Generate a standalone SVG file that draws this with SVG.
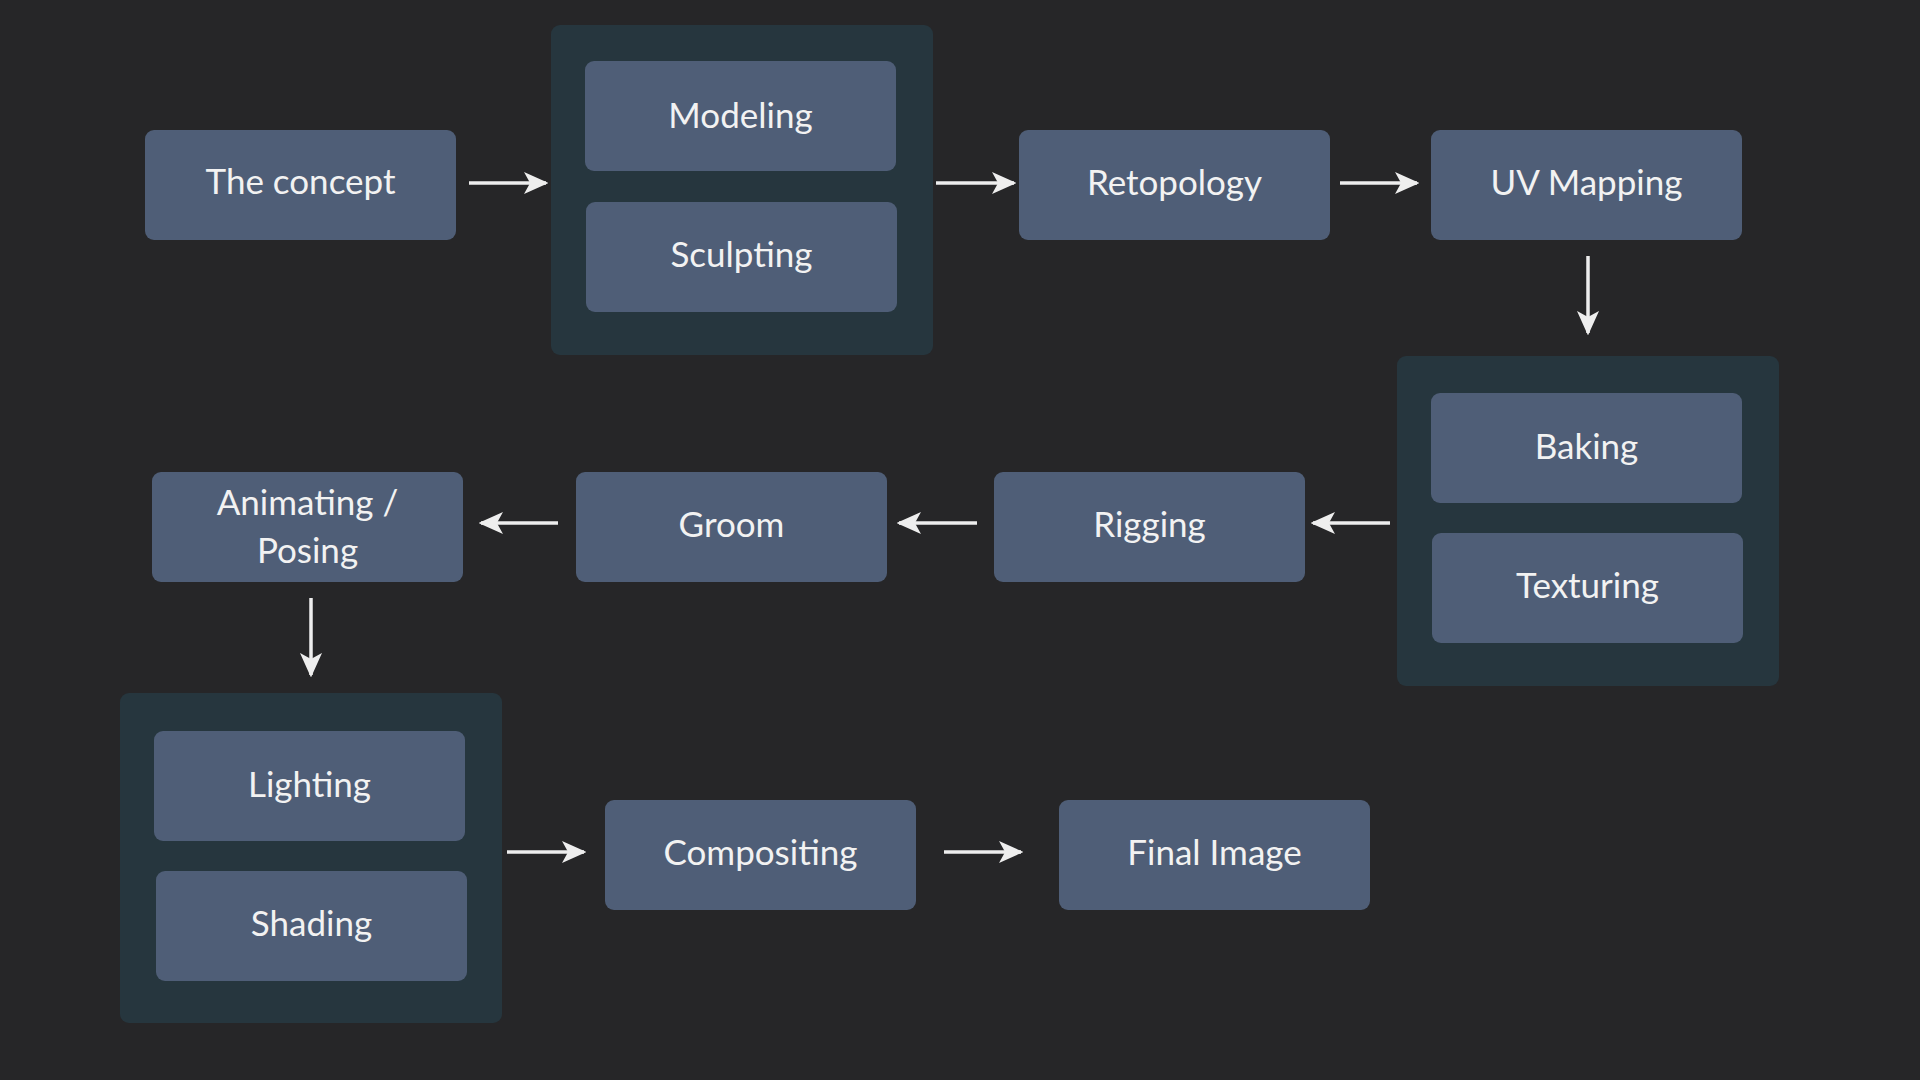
<svg xmlns="http://www.w3.org/2000/svg" width="1920" height="1080" viewBox="0 0 1920 1080">
<defs>
<style>
.bg{fill:#262628}
.grp{fill:#26363e}
.node{fill:#4f5e77}
.lbl{fill:#f2f2f2;font-family:Lato,"Open Sans","DejaVu Sans",sans-serif;font-size:35px;text-anchor:middle;dominant-baseline:central}
.arr{stroke:#eeeeee;stroke-width:3.5;fill:none;marker-end:url(#ah)}
</style>
<marker id="ah" viewBox="0 0 20 20" refX="18" refY="10" markerWidth="7" markerHeight="7" markerUnits="strokeWidth" orient="auto">
<path d="M0,1 L20,10 L0,19 L5,10 Z" fill="#eeeeee"/>
</marker>
</defs>
<rect class="bg" x="0" y="0" width="1920" height="1080"/>

<g id="concept"><rect class="node" x="145" y="130" width="311" height="110" rx="9"/><text class="lbl" x="300.5" y="180">The concept</text></g>

<g id="group-model"><rect class="grp" x="551" y="25" width="382" height="330" rx="9"/></g>
<g id="modeling"><rect class="node" x="585" y="61" width="311" height="110" rx="9"/><text class="lbl" x="740.5" y="114">Modeling</text></g>
<g id="sculpting"><rect class="node" x="586" y="202" width="311" height="110" rx="9"/><text class="lbl" x="741.5" y="253">Sculpting</text></g>

<g id="retopology"><rect class="node" x="1019" y="130" width="311" height="110" rx="9"/><text class="lbl" x="1174.5" y="181">Retopology</text></g>
<g id="uvmapping"><rect class="node" x="1431" y="130" width="311" height="110" rx="9"/><text class="lbl" x="1586.5" y="181">UV Mapping</text></g>

<g id="group-bake"><rect class="grp" x="1397" y="356" width="382" height="330" rx="9"/></g>
<g id="baking"><rect class="node" x="1431" y="393" width="311" height="110" rx="9"/><text class="lbl" x="1586.5" y="445">Baking</text></g>
<g id="texturing"><rect class="node" x="1432" y="533" width="311" height="110" rx="9"/><text class="lbl" x="1587.5" y="584">Texturing</text></g>

<g id="rigging"><rect class="node" x="994" y="472" width="311" height="110" rx="9"/><text class="lbl" x="1149.5" y="523">Rigging</text></g>
<g id="groom"><rect class="node" x="576" y="472" width="311" height="110" rx="9"/><text class="lbl" x="731.5" y="523">Groom</text></g>
<g id="animating"><rect class="node" x="152" y="472" width="311" height="110" rx="9"/><text class="lbl" x="307.5" y="501">Animating /</text><text class="lbl" x="307.5" y="549">Posing</text></g>

<g id="group-light"><rect class="grp" x="120" y="693" width="382" height="330" rx="9"/></g>
<g id="lighting"><rect class="node" x="154" y="731" width="311" height="110" rx="9"/><text class="lbl" x="309.5" y="783">Lighting</text></g>
<g id="shading"><rect class="node" x="156" y="871" width="311" height="110" rx="9"/><text class="lbl" x="311.5" y="922">Shading</text></g>

<g id="compositing"><rect class="node" x="605" y="800" width="311" height="110" rx="9"/><text class="lbl" x="760.5" y="851">Compositing</text></g>
<g id="final"><rect class="node" x="1059" y="800" width="311" height="110" rx="9"/><text class="lbl" x="1214.5" y="851">Final Image</text></g>

<g id="connectors">
<line class="arr" x1="469" y1="183" x2="546" y2="183"/>
<line class="arr" x1="936" y1="183" x2="1014" y2="183"/>
<line class="arr" x1="1340" y1="183" x2="1417" y2="183"/>
<line class="arr" x1="1588" y1="256" x2="1588" y2="333"/>
<line class="arr" x1="1390" y1="523" x2="1313" y2="523"/>
<line class="arr" x1="977" y1="523" x2="899" y2="523"/>
<line class="arr" x1="558" y1="523" x2="481" y2="523"/>
<line class="arr" x1="311" y1="598" x2="311" y2="675"/>
<line class="arr" x1="507" y1="852" x2="584" y2="852"/>
<line class="arr" x1="944" y1="852" x2="1021" y2="852"/>
</g>
</svg>
